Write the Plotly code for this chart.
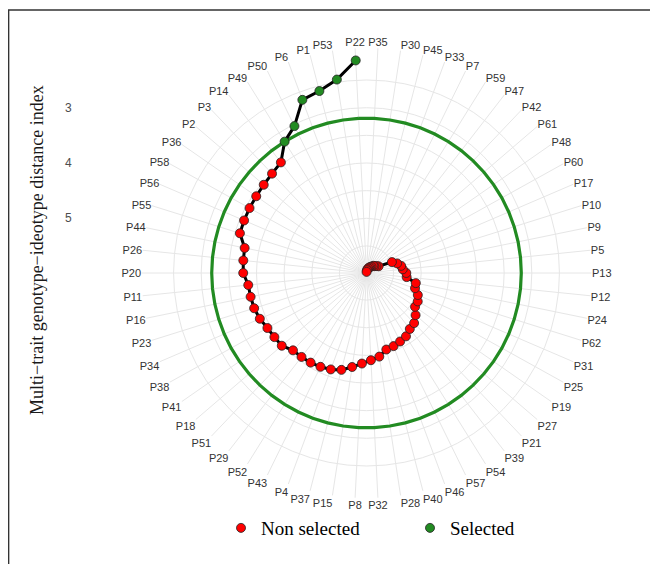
import plotly.graph_objects as go

# Genotypes in ranking order (counter-clockwise from the top)
genotypes = ["P22", "P53", "P1", "P6", "P50", "P49", "P14", "P3", "P2", "P36",
             "P58", "P56", "P55", "P44", "P26", "P20", "P11", "P16", "P23", "P34",
             "P38", "P41", "P18", "P51", "P29", "P52", "P43", "P4", "P37", "P15",
             "P8", "P32", "P28", "P40", "P46", "P57", "P54", "P39", "P21", "P27",
             "P19", "P25", "P31", "P62", "P24", "P12", "P13", "P5", "P9", "P10",
             "P17", "P60", "P48", "P61", "P42", "P47", "P59", "P7", "P33", "P45",
             "P30", "P35"]

# Multi-trait genotype-ideotype distance index
mgidi = [2.14, 2.45, 2.59, 2.65, 3.03, 3.19, 3.46, 3.51, 3.54, 3.56,
         3.57, 3.58, 3.59, 3.74, 3.75, 3.76, 3.84, 3.85, 3.86, 3.89,
         3.94, 3.96, 3.97, 4.06, 4.07, 4.08, 4.10, 4.13, 4.18, 4.27,
         4.35, 4.41, 4.46, 4.56, 4.58, 4.61, 4.64, 4.71, 4.74, 4.82,
         4.92, 4.93, 4.98, 5.07, 5.08, 5.26, 5.27, 5.33, 5.35, 5.41,
         5.49, 5.74, 5.77, 5.80, 5.81, 5.84, 5.86, 5.88, 5.90, 5.92,
         5.94, 5.97]

selected = ["P22", "P53", "P1", "P6", "P50", "P49"]
radial_ticks = [3, 4, 5]
radial_grid = [2.5, 3, 3.5, 4, 4.5, 5, 5.5]
legend_labels = ["Non selected", "Selected"]
axis_title = "Multi\u2212trait genotype\u2212ideotype distance index"

RED = "#FF0000"
GREEN = "#228B22"

sel_g = [g for g in genotypes if g in selected]
sel_r = [v for g, v in zip(genotypes, mgidi) if g in selected]
non_g = [g for g in genotypes if g not in selected]
non_r = [v for g, v in zip(genotypes, mgidi) if g not in selected]
cutpoint = max(sel_r)

r_center = 5.99
r_outer = 1.92

fig = go.Figure()

fig.add_trace(go.Scatterpolar(
    r=[cutpoint] * (len(genotypes) + 1),
    theta=genotypes + [genotypes[0]],
    mode="lines", line=dict(color=GREEN, width=3.2),
    showlegend=False, hoverinfo="skip"))

fig.add_trace(go.Scatterpolar(
    r=mgidi, theta=genotypes, mode="lines",
    line=dict(color="black", width=3), showlegend=False, hoverinfo="skip"))

fig.add_trace(go.Scatterpolar(
    r=non_r, theta=non_g, mode="markers", name=legend_labels[0],
    marker=dict(color=RED, size=9, line=dict(color="#222222", width=0.8))))

fig.add_trace(go.Scatterpolar(
    r=sel_r, theta=sel_g, mode="markers", name=legend_labels[1],
    marker=dict(color=GREEN, size=9, line=dict(color="#222222", width=0.8))))

# invisible cartesian trace used only to carry the radial tick labels on the left
fig.add_trace(go.Scatter(x=[None], y=[None], xaxis="x", yaxis="y",
                         showlegend=False, hoverinfo="skip"))

# page has an 8px body margin, so the figure is 650x556
W, H = 650, 556
cx, cy = 358.5, 265.0   # px from left / top of the figure
R = 225.0

fig.update_layout(
    width=W, height=H,
    margin=dict(l=0, r=0, t=0, b=0),
    paper_bgcolor="white", plot_bgcolor="white",
    font=dict(family="Liberation Sans, Arial, sans-serif", color="#333333"),
    polar=dict(
        domain=dict(x=[(cx - R) / W, (cx + R) / W],
                    y=[(H - cy - R) / H, (H - cy + R) / H]),
        bgcolor="white",
        radialaxis=dict(range=[r_center, r_outer], tickvals=radial_grid,
                        showticklabels=False, ticks="", showline=False,
                        gridcolor="#E6E6E6", gridwidth=1.3),
        angularaxis=dict(type="category", categoryarray=genotypes,
                         direction="counterclockwise",
                         rotation=90 + 180 / len(genotypes),
                         showline=False, ticks="",
                         gridcolor="#E6E6E6", gridwidth=1.3,
                         tickfont=dict(size=11, color="#333333",
                                       family="Liberation Sans, Arial, sans-serif")),
    ),
    xaxis=dict(visible=False, domain=[0.9, 1.0], range=[0, 1]),
    yaxis=dict(anchor="free", position=0.098,
               domain=[(H - cy) / H, (H - cy + R) / H],
               range=[r_center, r_outer], tickvals=radial_ticks,
               showgrid=False, zeroline=False, showline=False, ticks="",
               tickfont=dict(size=12, color="#4D4D4D",
                             family="Liberation Sans, Arial, sans-serif")),
    showlegend=True,
    legend=dict(orientation="h", x=0.3277, xanchor="left", y=0.0647, yanchor="middle",
                entrywidth=144, entrywidthmode="pixels",
                font=dict(family="Liberation Serif, Times New Roman, serif",
                          size=19, color="black"),
                bgcolor="rgba(0,0,0,0)"),
    annotations=[dict(text=axis_title, x=29 / W, y=(H - 242) / H,
                      xref="paper", yref="paper", showarrow=False,
                      xanchor="center", yanchor="middle",
                      textangle=-90,
                      font=dict(family="Liberation Serif, Times New Roman, serif",
                                size=18, color="#1A1A1A"))],
    shapes=[dict(type="rect", xref="paper", yref="paper",
                 x0=0.6 / W, x1=1.05, y0=-0.05, y1=(H - 2) / H,
                 line=dict(color="#333333", width=1.5), fillcolor="rgba(0,0,0,0)")],
)

fig.write_html("out.html")
